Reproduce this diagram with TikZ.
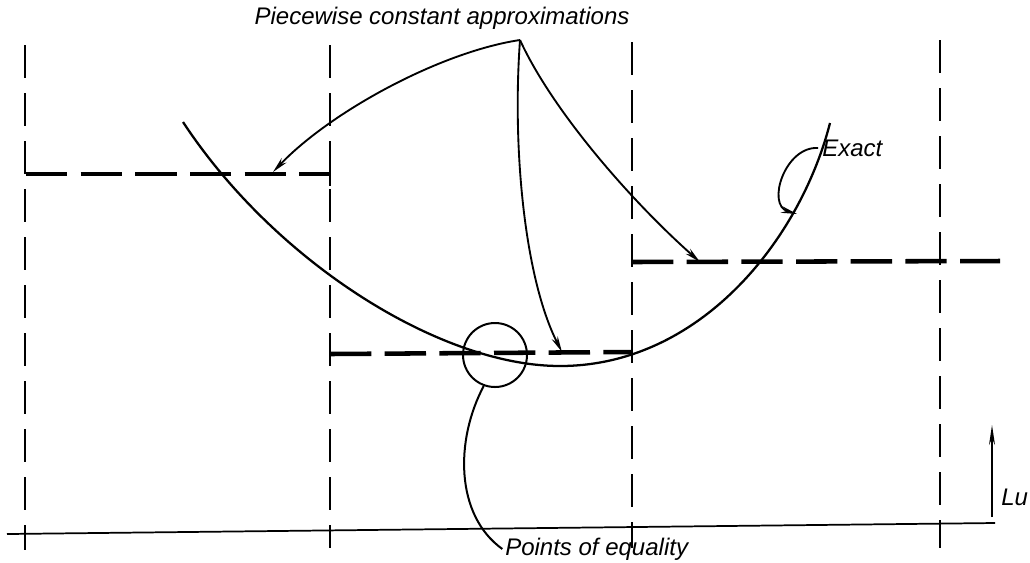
\documentclass[tikz,border=0pt]{standalone}
\usepackage{fontspec}
\setmainfont{Liberation Sans}
\usetikzlibrary{arrows.meta}
\begin{document}
\begin{tikzpicture}[x=0.75pt,y=-0.75pt,
  grid/.style={line width=1.3pt, dash pattern=on 25pt off 11pt},
  approx/.style={line width=3.4pt, dash pattern=on 31pt off 10pt},
  exact/.style={line width=1.7pt},
  lbl/.style={font=\itshape\fontsize{18}{20}\selectfont, inner sep=0pt},
  pointer/.style={line width=1.4pt, -{Stealth[length=12pt,width=5pt]}},
  lead/.style={line width=1.5pt}]
\useasboundingbox (0,0) rectangle (1030,562);
% grid lines
\draw[grid] (25,45) -- (25,550);
\draw[grid] (330,45) -- (330,548);
\draw[grid] (632,42) -- (632,548);
\draw[grid] (940,40) -- (940,548);
% axis
\draw[line width=1.3pt] (7,534) -- (995,523);
% piecewise constant approximations
\draw[approx] (26,174) -- (330,174);
\draw[line width=1.8pt] (330,171) -- (330,186);
\draw[approx] (330,354) -- (632,352);
\draw[approx] (632,262) -- (1000,261);
% exact curve
\draw[exact] (183,122) .. controls (275,262) and (440,366) .. (560,366)
                       .. controls (700,366) and (800,240) .. (830,123);
% circle
\node[draw, circle, line width=1.5pt, minimum size=48pt, inner sep=0pt] (eq) at (495,355) {};
% labels
\node[lbl] (pca) at (442,18) {Piecewise constant approximations};
\node[lbl, anchor=west] (ex) at (822,148) {Exact};
\node[lbl, anchor=west] (poe) at (505,549) {Points of equality};
\node[lbl, anchor=west] (lu) at (1001,497) {Lu};
\coordinate (apex) at (520,40);
\coordinate (t1) at (273,172);
\coordinate (t2) at (562,352);
\coordinate (t3) at (700,262);
\coordinate (t4) at (797,214);
\coordinate (lub) at (992,517);
\coordinate (lut) at (992,425);
% pointers
\draw[pointer] (apex) .. controls (440,52) and (330,112) .. (t1);
\draw[pointer] (apex) .. controls (512,150) and (525,280) .. (t2);
\draw[pointer] (apex) .. controls (552,110) and (630,200) .. (t3);
\draw[pointer] ([xshift=-3pt]ex.west) .. controls (785,146) and (766,205) .. (t4);
\draw[lead] (eq.-110) .. controls (455,440) and (455,515) .. ([xshift=-2pt]poe.west);
\draw[line width=1.4pt, -{Stealth[length=15pt,width=4.5pt]}] (lub) -- (lut);
\end{tikzpicture}
\end{document}
